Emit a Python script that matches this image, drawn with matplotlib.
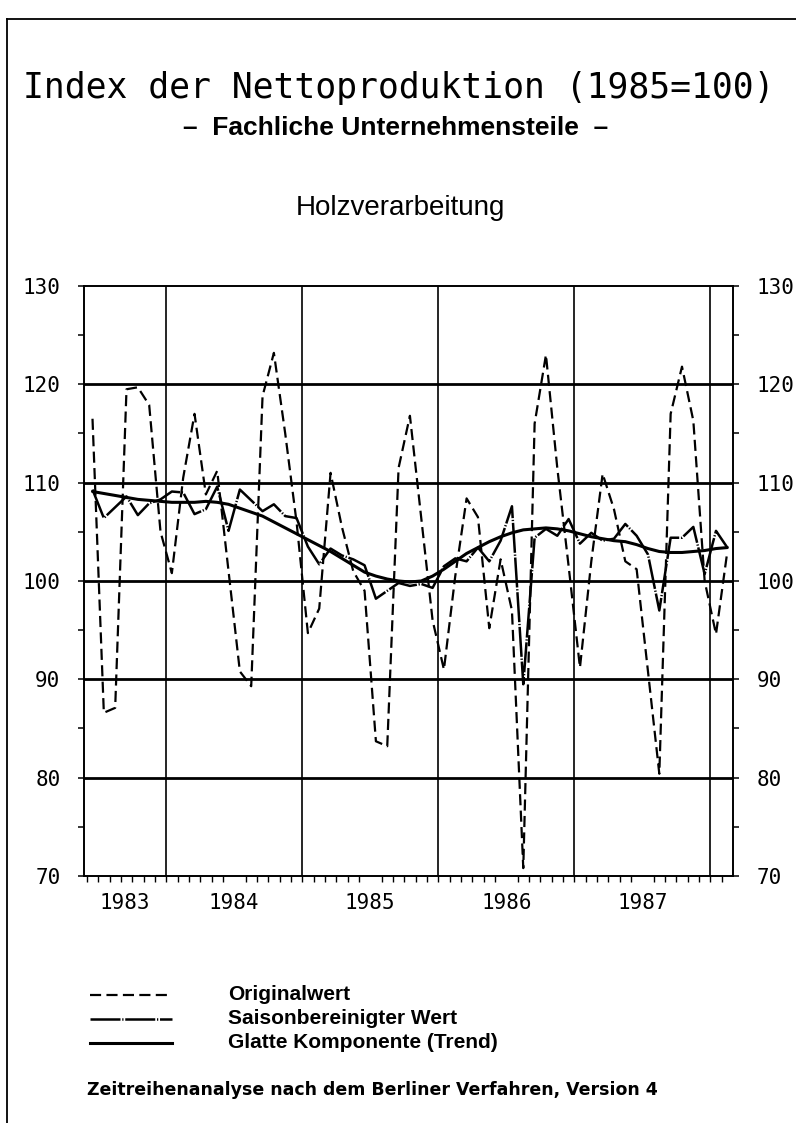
import numpy as np
import pandas as pd
import matplotlib
matplotlib.use("Agg")
import matplotlib.pyplot as plt
from matplotlib.lines import Line2D
from matplotlib.ticker import FixedLocator, NullFormatter

# monthly values, Jun 1983 - Feb 1988
months = pd.period_range("1983-06", "1988-02", freq="M")

original = [116.5, 86.6, 87.1, 119.5, 119.7, 117.9, 105.0, 100.8, 110.5, 117.0,
            108.8, 111.2, 101.0, 90.8, 89.3, 118.8, 123.2, 115.0, 106.0, 94.7,
            97.2, 111.0, 105.5, 101.0, 99.0, 83.7, 83.2, 111.5, 116.8, 106.4,
            96.0, 91.0, 100.5, 108.4, 106.5, 95.2, 102.2, 97.0, 70.8, 116.0,
            123.0, 111.5, 101.5, 91.2, 102.0, 110.9, 107.3, 102.0, 101.2, 90.8,
            80.4, 117.0, 121.8, 116.3, 100.0, 94.6, 103.0]

saisonbereinigt = [109.3, 106.4, 107.5, 108.6, 106.7, 107.9, 108.3, 109.1, 109.0, 106.8,
                   107.3, 109.6, 105.1, 109.3, 108.2, 107.1, 107.8, 106.6, 106.4, 103.5,
                   101.7, 103.3, 102.6, 102.2, 101.6, 98.2, 99.0, 99.8, 99.5, 99.7,
                   99.3, 101.5, 102.3, 102.0, 103.4, 102.0, 104.1, 107.6, 89.5, 104.4,
                   105.3, 104.6, 106.3, 103.8, 104.9, 104.1, 104.3, 105.8, 104.6, 102.7,
                   97.0, 104.4, 104.4, 105.5, 100.7, 105.1, 103.4]

trend = [109.1, 108.9, 108.7, 108.5, 108.3, 108.2, 108.1, 108.0, 108.0, 108.0,
         108.1, 108.0, 107.8, 107.4, 107.0, 106.6, 106.0, 105.4, 104.8, 104.2,
         103.6, 103.0, 102.3, 101.6, 100.9, 100.5, 100.2, 100.0, 99.9, 100.0,
         100.5, 101.2, 102.0, 102.8, 103.4, 104.0, 104.5, 104.9, 105.2, 105.3,
         105.4, 105.3, 105.1, 104.8, 104.5, 104.3, 104.1, 104.0, 103.7, 103.3,
         103.0, 102.9, 102.9, 103.0, 103.1, 103.3, 103.4]

years = [1983, 1984, 1985, 1986, 1987]
y_ticks = [70, 80, 90, 100, 110, 120, 130]

# x in months since Jan 1983, points in the middle of the month
x = np.array([(p.year - 1983) * 12 + p.month - 1 for p in months]) + 0.5
x_left, x_right = 4.75, 62.0

W, H = 796, 1123
fig = plt.figure(figsize=(W / 100, H / 100), dpi=100)
ax = fig.add_axes([84 / W, 1 - 876 / H, (733 - 84) / W, (876 - 286) / H])

dash_orig = (0, (5, 2.4))
dash_sa = (0, (12, 0.7, 0.5, 0.7))
ax.plot(x, original, color="black", lw=1.6, ls=dash_orig)
ax.plot(x, saisonbereinigt, color="black", lw=1.8, ls=dash_sa)
ax.plot(x, trend, color="black", lw=2.2, solid_capstyle="round")

ax.set_xlim(x_left, x_right)
ax.set_ylim(70, 130)

# grid
for v in y_ticks[1:-1]:
    ax.axhline(v, color="black", lw=2.0)
year_starts = [(y - 1983) * 12 for y in years[1:]] + [60]
for v in year_starts:
    ax.axvline(v, color="black", lw=1.2)

for s in ax.spines.values():
    s.set_linewidth(1.4)

mono = "DejaVu Sans Mono"
ax.set_yticks(y_ticks)
ax.set_yticks(np.arange(75, 130, 10), minor=True)
ax.tick_params(axis="y", which="both", direction="out", length=4, width=1.1,
               left=True, right=True, labelleft=True, labelright=True, pad=13)
ax.set_yticklabels([str(v) for v in y_ticks], fontfamily=mono, fontsize=15)

label_pos = [(max(x_left, s) + s + 12) / 2 for s in [(y - 1983) * 12 for y in years]]
ax.xaxis.set_major_locator(FixedLocator(label_pos))
ax.set_xticklabels([str(y) for y in years], fontfamily=mono, fontsize=15)
ax.xaxis.set_minor_locator(FixedLocator(np.arange(5, 62)))
ax.xaxis.set_minor_formatter(NullFormatter())
ax.tick_params(axis="x", which="major", length=0, pad=12)
ax.tick_params(axis="x", which="minor", direction="out", length=4, width=1.0)

# titles
def fy(py):
    return 1 - py / H

fig.text(399 / W, fy(88), "Index der Nettoproduktion (1985=100)", ha="center", va="center",
         fontfamily=mono, fontsize=25)
fig.text(396 / W, fy(128), "–  Fachliche Unternehmensteile  –", ha="center", va="center",
         fontfamily="Liberation Sans", fontweight="bold", fontsize=19)
fig.text(400 / W, fy(208), "Holzverarbeitung", ha="center", va="center",
         fontfamily="Liberation Sans", fontsize=20)

# legend
leg_styles = [dict(lw=1.6, ls=dash_orig),
              dict(lw=1.8, ls=dash_sa),
              dict(lw=2.2)]
leg_labels = ["Originalwert", "Saisonbereinigter Wert", "Glatte Komponente (Trend)"]
for i, (st, lab) in enumerate(zip(leg_styles, leg_labels)):
    yy = fy(995 + 24 * i)
    fig.add_artist(Line2D([90 / W, 172 / W], [yy, yy], color="black", transform=fig.transFigure, **st))
    fig.text(228 / W, yy, lab, ha="left", va="center", fontfamily="Liberation Sans",
             fontweight="bold", fontsize=15)

fig.text(87 / W, fy(1090), "Zeitreihenanalyse nach dem Berliner Verfahren, Version 4",
         ha="left", va="center", fontfamily="DejaVu Sans", fontweight="bold", fontsize=12.5)

# page frame (top and left only)
fig.add_artist(Line2D([7 / W, 1], [fy(19), fy(19)], color="black", lw=1.3, transform=fig.transFigure))
fig.add_artist(Line2D([7 / W, 7 / W], [0, fy(19)], color="black", lw=1.3, transform=fig.transFigure))

fig.savefig("out.png", dpi=100)
